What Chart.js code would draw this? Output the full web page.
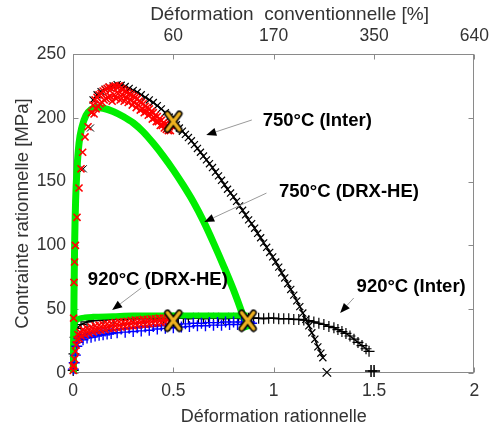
<!DOCTYPE html>
<html>
<head>
<meta charset="utf-8">
<script src="https://cdn.jsdelivr.net/npm/chart.js@4.4.0/dist/chart.umd.min.js"></script>
<style>
  html, body { margin: 0; padding: 0; background: #fff; }
  canvas { display: block; }
</style>
</head>
<body>
<canvas id="chart" width="496" height="426"></canvas>
<script>
// strain (true) vs stress [MPa]
const xTicks = [0, 0.5, 1, 1.5, 2];
const yTicks = [0, 50, 100, 150, 200, 250];
const topTickPos = [0.5, 1, 1.5, 2];
const topTickLabels = ['60', '170', '350', '640'];

// 750°C, interrupted test (black x)
const black750Rise = [[0.003,10],[0.051,160],[0.087,192]];
const black750 = [[0.1,214],[0.12,218],[0.14,220.5],[0.16,222.5],[0.18,224],[0.2,225],[0.22,226],[0.24,225.5],
  [0.26,224.5],[0.28,223],[0.3,221.5],[0.32,220],[0.34,218],[0.36,216],[0.38,214],[0.4,212],[0.42,209.5],
  [0.44,207],[0.46,204],[0.48,200.5],[0.5,197],[0.515,194.5],[0.53,192],[0.545,189.5],[0.56,187],[0.575,184.5],
  [0.59,182],[0.605,179],[0.62,176],[0.635,173],[0.65,170],[0.665,167],[0.68,164],[0.695,161],[0.71,157.5],
  [0.725,154.5],[0.74,151],[0.755,147.5],[0.77,144],[0.785,141],[0.8,138],[0.815,134.5],[0.83,131],[0.845,127.5],
  [0.86,124],[0.875,120],[0.89,117],[0.905,113.5],[0.92,109.5],[0.935,106],[0.95,102],[0.965,98.5],[0.98,94.5],
  [0.995,91],[1.01,87],[1.025,83],[1.04,78.5],[1.055,74.5],[1.07,70],[1.085,65.5],[1.1,61],[1.115,56.5],
  [1.13,52],[1.145,47],[1.16,42],[1.175,37],[1.19,31.5],[1.205,26.5],[1.22,20.5],[1.235,15.5],[1.245,12]];
const black750End = [[1.265,0.5]];

// 750°C, red x
const red750 = [[0.001,5],[0.003,43],[0.005,71],[0.008,87],[0.012,100],[0.02,122],[0.03,145],[0.04,160],
  [0.048,173],[0.06,185],[0.075,193],[0.092,204],
  [0.1,210],[0.105,203],[0.11,214],[0.115,207],[0.12,216],[0.125,209],[0.13,218],[0.135,211],[0.14,219],
  [0.145,212],[0.15,221],[0.155,214],[0.16,222],[0.165,215],[0.17,223],[0.175,216],[0.18,224],[0.185,217],
  [0.19,223],[0.195,213],[0.2,224],[0.205,218],[0.21,225],[0.215,215],[0.22,224],[0.225,219],[0.23,225],
  [0.235,214],[0.24,223],[0.245,218],[0.25,222],[0.255,213],[0.26,221],[0.265,216],[0.27,220],[0.275,212],
  [0.28,219],[0.285,214],[0.29,218],[0.295,210],[0.3,217],[0.305,212],[0.31,216],[0.315,208],[0.32,215],
  [0.325,210],[0.33,213],[0.335,206],[0.34,212],[0.345,207],[0.35,211],[0.355,204],[0.36,209],[0.365,205],
  [0.37,208],[0.375,202],[0.38,207],[0.385,203],[0.39,205],[0.395,199],[0.4,204],[0.405,200],[0.41,202],
  [0.415,197],[0.42,201],[0.425,197],[0.43,199],[0.435,194],[0.44,198],[0.445,194],[0.45,196],[0.455,192],
  [0.46,195],[0.465,191],[0.47,194],[0.475,190],[0.48,193],[0.485,190],[0.49,194],[0.5,195]];

// 750°C DRX-HE model (green)
const green750 = [[0.002,0],[0.005,60],[0.008,100],[0.013,135],[0.02,160],[0.03,180],[0.045,193],[0.065,202],
  [0.09,206.5],[0.116,208],[0.15,207.5],[0.2,205],[0.25,201],[0.3,196],[0.35,189],[0.4,180],[0.45,170],
  [0.5,159],[0.55,147],[0.6,134],[0.65,119],[0.7,102],[0.75,84],[0.8,65],[0.84,48],[0.87,34]];

// 920°C DRX-HE model (green)
const green920 = [[0.002,0],[0.003,25],[0.005,35],[0.009,39],[0.015,41],[0.03,42.5],[0.06,43.5],[0.1,44],
  [0.2,44.5],[0.3,45],[0.5,45],[0.7,45],[0.87,45]];

// 920°C, red x
const red920 = [[0.001,2],[0.004,6],[0.008,11],[0.012,17],[0.016,22],[0.02,26],[0.025,30],[0.03,27],[0.035,32],
  [0.04,29],[0.05,34],[0.06,30],[0.07,35],[0.08,31],[0.09,36],[0.1,32],[0.11,37],[0.12,33],[0.13,37.5],
  [0.14,33.5],[0.15,38],[0.16,34],[0.17,38.5],[0.18,35],[0.19,39],[0.2,35],[0.21,39.5],[0.22,35.5],[0.23,40],
  [0.24,36],[0.25,40],[0.26,36.5],[0.27,40.5],[0.28,37],[0.29,41],[0.3,37],[0.31,41.5],[0.32,37.5],[0.33,41.5],
  [0.34,38],[0.35,42],[0.36,38],[0.37,42],[0.38,38.5],[0.39,42.5],[0.4,39],[0.41,42.5],[0.42,39],[0.43,43],
  [0.44,39.5],[0.45,43],[0.46,40],[0.47,43],[0.48,40],[0.49,42.5],[0.5,41]];

// 920°C, blue +
const blue920 = [[0.002,3],[0.006,8],[0.012,14],[0.019,21],[0.025,24],[0.03,27],[0.04,29],[0.05,26],[0.06,30],
  [0.07,27.5],[0.08,31],[0.09,28],[0.1,31.5],[0.11,29],[0.12,32],[0.13,29.5],[0.14,32.5],[0.15,30],[0.16,33],
  [0.17,30.5],[0.18,33.5],[0.19,31],[0.2,34],[0.22,31.5],[0.24,34.5],[0.26,32],[0.28,35],[0.3,32.5],[0.32,35.5],
  [0.34,33],[0.36,36],[0.38,33.5],[0.4,36.5],[0.42,34.5],[0.44,37],[0.46,35],[0.48,37.5],[0.5,35.5],[0.52,38],
  [0.54,36],[0.56,38.5],[0.58,36.5],[0.6,39],[0.62,37],[0.64,39],[0.66,37],[0.68,39.5],[0.7,37.5],[0.72,39.5],
  [0.74,37.5],[0.76,40],[0.78,38],[0.8,40],[0.82,38],[0.84,40],[0.86,38.5],[0.88,40],[0.89,39]];

// 920°C, interrupted test (black +)
const black920 = [[0.001,2],[0.005,15],[0.01,28],[0.02,35],[0.04,38],[0.07,40],[0.1,41],[0.15,41.5],[0.2,42],
  [0.25,42],[0.3,42.5],[0.35,42.5],[0.4,42.5],[0.45,42.5],[0.5,43],[0.525,43],[0.55,43],[0.575,42.5],[0.6,43],
  [0.625,43],[0.65,42.5],[0.675,43],[0.7,43],[0.725,43],[0.75,42.5],[0.775,43],[0.8,43],[0.825,43],[0.85,42.5],
  [0.875,43],[0.9,43],[0.925,43],[0.95,42.5],[0.975,43],[1.0,43],[1.025,42.5],[1.05,42.5],[1.075,42.5],[1.1,42],
  [1.125,42],[1.15,41.5],[1.175,41],[1.2,40],[1.225,39],[1.25,38],[1.275,36.5],[1.3,35.5],[1.32,34],[1.34,32.5],
  [1.36,31],[1.38,29],[1.4,26.5],[1.42,24],[1.44,21.5],[1.46,19],[1.475,17]];
const black920End = [[1.485,1.5],[1.5,1.5]];

// big yellow X markers
const markX = [0.5, 0.5, 0.87];
const markY = [197, 41, 41];

// annotations (data coordinates)
const notes = [
  { text: '750°C (Inter)',  at: [0.945, 197.5], from: [0.891, 198.3], to: [0.664, 186.5] },
  { text: '750°C (DRX-HE)', at: [1.026, 141.8], from: [0.964, 141.0], to: [0.654, 118.3] },
  { text: '920°C (DRX-HE)', at: [0.074, 72.9],  from: [0.340, 66.6],  to: [0.195, 49.4] },
  { text: '920°C (Inter)',  at: [1.413, 67.4],  from: [1.399, 58.8],  to: [1.331, 47.0] }
];

const FONT = "'Liberation Sans', Arial, sans-serif";
const pts = a => a.map(p => ({ x: p[0], y: p[1] }));

// yellow X with black outline, as a point image
const xImg = document.createElement('canvas');
xImg.width = 22; xImg.height = 24;
(function () {
  const c = xImg.getContext('2d');
  c.lineCap = 'round';
  const draw = () => { c.beginPath(); c.moveTo(5, 4); c.lineTo(17, 20); c.moveTo(17, 4); c.lineTo(5, 20); c.stroke(); };
  c.strokeStyle = '#000'; c.lineWidth = 6.5; draw();
  c.strokeStyle = '#EDB120'; c.lineWidth = 3.5; draw();
})();

const frame = {
  id: 'frame',
  beforeDatasetsDraw(chart) {
    const { ctx, chartArea: a, scales } = chart;
    ctx.save();
    ctx.strokeStyle = '#8a8a8a';
    ctx.lineWidth = 1;
    const L = Math.round(a.left) + 0.5, R = Math.round(a.right) - 0.5;
    const T = Math.round(a.top) + 0.5, B = Math.round(a.bottom) - 0.5;
    ctx.strokeRect(L, T, R - L, B - T);
    ctx.beginPath();
    xTicks.forEach(v => {
      const px = Math.round(scales.x.getPixelForValue(v)) + 0.5;
      ctx.moveTo(px, B); ctx.lineTo(px, B - 5);
      ctx.moveTo(px, T); ctx.lineTo(px, T + 5);
    });
    yTicks.forEach(v => {
      const py = Math.round(scales.y.getPixelForValue(v)) + 0.5;
      ctx.moveTo(L, py); ctx.lineTo(L + 5, py);
      ctx.moveTo(R, py); ctx.lineTo(R - 5, py);
    });
    ctx.stroke();
    ctx.restore();
  },
  afterDraw(chart) {
    const { ctx, scales } = chart;
    const px = p => [scales.x.getPixelForValue(p[0]), scales.y.getPixelForValue(p[1])];
    ctx.save();
    notes.forEach(n => {
      const [x0, y0] = px(n.from), [x1, y1] = px(n.to);
      const ang = Math.atan2(y1 - y0, x1 - x0);
      const hl = 10, hw = 4;
      const bx = x1 - Math.cos(ang) * hl, by = y1 - Math.sin(ang) * hl;
      ctx.strokeStyle = '#9a9a9a'; ctx.lineWidth = 1;
      ctx.beginPath(); ctx.moveTo(x0, y0); ctx.lineTo(bx, by); ctx.stroke();
      ctx.fillStyle = '#000';
      ctx.beginPath();
      ctx.moveTo(x1, y1);
      ctx.lineTo(bx + Math.sin(ang) * hw, by - Math.cos(ang) * hw);
      ctx.lineTo(bx - Math.sin(ang) * hw, by + Math.cos(ang) * hw);
      ctx.closePath(); ctx.fill();
      const [tx, ty] = px(n.at);
      ctx.font = 'bold 18.5px ' + FONT;
      ctx.textBaseline = 'middle'; ctx.textAlign = 'left';
      ctx.fillText(n.text, tx, ty);
    });
    ctx.restore();
  }
};

const base = { showLine: false, clip: false, pointBorderWidth: 1, pointHoverRadius: 0 };

new Chart(document.getElementById('chart'), {
  type: 'scatter',
  data: {
    datasets: [
      { ...base, order: 0, data: markX.map((x, i) => ({ x, y: markY[i] })), pointStyle: xImg },
      { ...base, order: 2, data: pts(red750), pointStyle: 'crossRot', pointRadius: 5, pointBorderWidth: 1.6, borderColor: '#ff0000', backgroundColor: '#ff0000' },
      { ...base, order: 2, data: pts(red920), pointStyle: 'crossRot', pointRadius: 5, pointBorderWidth: 1.6, borderColor: '#ff0000', backgroundColor: '#ff0000' },
      { ...base, order: 3, data: pts(blue920), pointStyle: 'cross', pointRadius: 5.5, pointBorderWidth: 1.4, borderColor: '#0000ff', backgroundColor: '#0000ff' },
      { ...base, order: 4, data: pts(green750), showLine: true, cubicInterpolationMode: 'monotone', pointRadius: 0, borderColor: '#00ee00', borderWidth: 7 },
      { ...base, order: 4, data: pts(green920), showLine: true, cubicInterpolationMode: 'monotone', pointRadius: 0, borderColor: '#00ee00', borderWidth: 6 },
      { ...base, order: 5, data: pts(black750Rise), pointStyle: 'crossRot', pointRadius: 5, borderColor: '#000', backgroundColor: '#000' },
      { ...base, order: 5, data: pts(black750), showLine: true, borderWidth: 1.5, pointStyle: 'crossRot', pointRadius: 5, pointBorderWidth: 1.2, borderColor: '#000', backgroundColor: '#000' },
      { ...base, order: 5, data: pts(black750End), pointStyle: 'crossRot', pointRadius: 6, pointBorderWidth: 1.3, borderColor: '#000', backgroundColor: '#000' },
      { ...base, order: 6, data: pts(black920), showLine: true, borderWidth: 1.5, pointStyle: 'cross', pointRadius: 5.5, pointBorderWidth: 1.2, borderColor: '#000', backgroundColor: '#000' },
      { ...base, order: 6, data: pts(black920End), pointStyle: 'cross', pointRadius: 6, pointBorderWidth: 1.5, borderColor: '#000', backgroundColor: '#000' }
    ]
  },
  options: {
    responsive: false,
    animation: false,
    events: [],
    layout: { padding: { left: 0, right: 9, top: 0, bottom: 0 } },
    plugins: { legend: { display: false }, tooltip: { enabled: false } },
    scales: {
      x: {
        type: 'linear', position: 'bottom', min: 0, max: 2,
        afterBuildTicks: s => { s.ticks = xTicks.map(v => ({ value: v })); },
        afterFit: s => { s.height = 53; },
        grid: { display: false, drawTicks: false },
        border: { display: false },
        ticks: { padding: 8, maxRotation: 0, color: '#333', font: { family: FONT, size: 17.5 },
                 callback: v => String(v) },
        title: { display: true, text: 'Déformation rationnelle', color: '#333', padding: 0,
                 font: { family: FONT, size: 18, lineHeight: 1 } }
      },
      x2: {
        type: 'linear', position: 'top', min: 0, max: 2,
        afterBuildTicks: s => { s.ticks = topTickPos.map(v => ({ value: v })); },
        afterFit: s => { s.height = 54; },
        grid: { display: false, drawTicks: false },
        border: { display: false },
        ticks: { padding: 7, maxRotation: 0, color: '#333', font: { family: FONT, size: 17.5 },
                 callback: v => topTickLabels[topTickPos.indexOf(v)] },
        title: { display: true, text: '      Déformation  conventionnelle [%]', color: '#333',
                 padding: { top: 5.5, bottom: 0 }, font: { family: FONT, size: 19, lineHeight: 1 } }
      },
      y: {
        type: 'linear', position: 'left', min: 0, max: 250,
        afterBuildTicks: s => { s.ticks = yTicks.map(v => ({ value: v })); },
        afterFit: s => { s.width = 73; },
        grid: { display: false, drawTicks: false },
        border: { display: false },
        ticks: { padding: 7, color: '#333', font: { family: FONT, size: 17.5 } },
        title: { display: true, text: 'Contrainte rationnelle [MPa]', color: '#333',
                 padding: { top: 14, bottom: 0 }, font: { family: FONT, size: 18.6, lineHeight: 1 } }
      }
    }
  },
  plugins: [frame]
});
</script>
</body>
</html>
